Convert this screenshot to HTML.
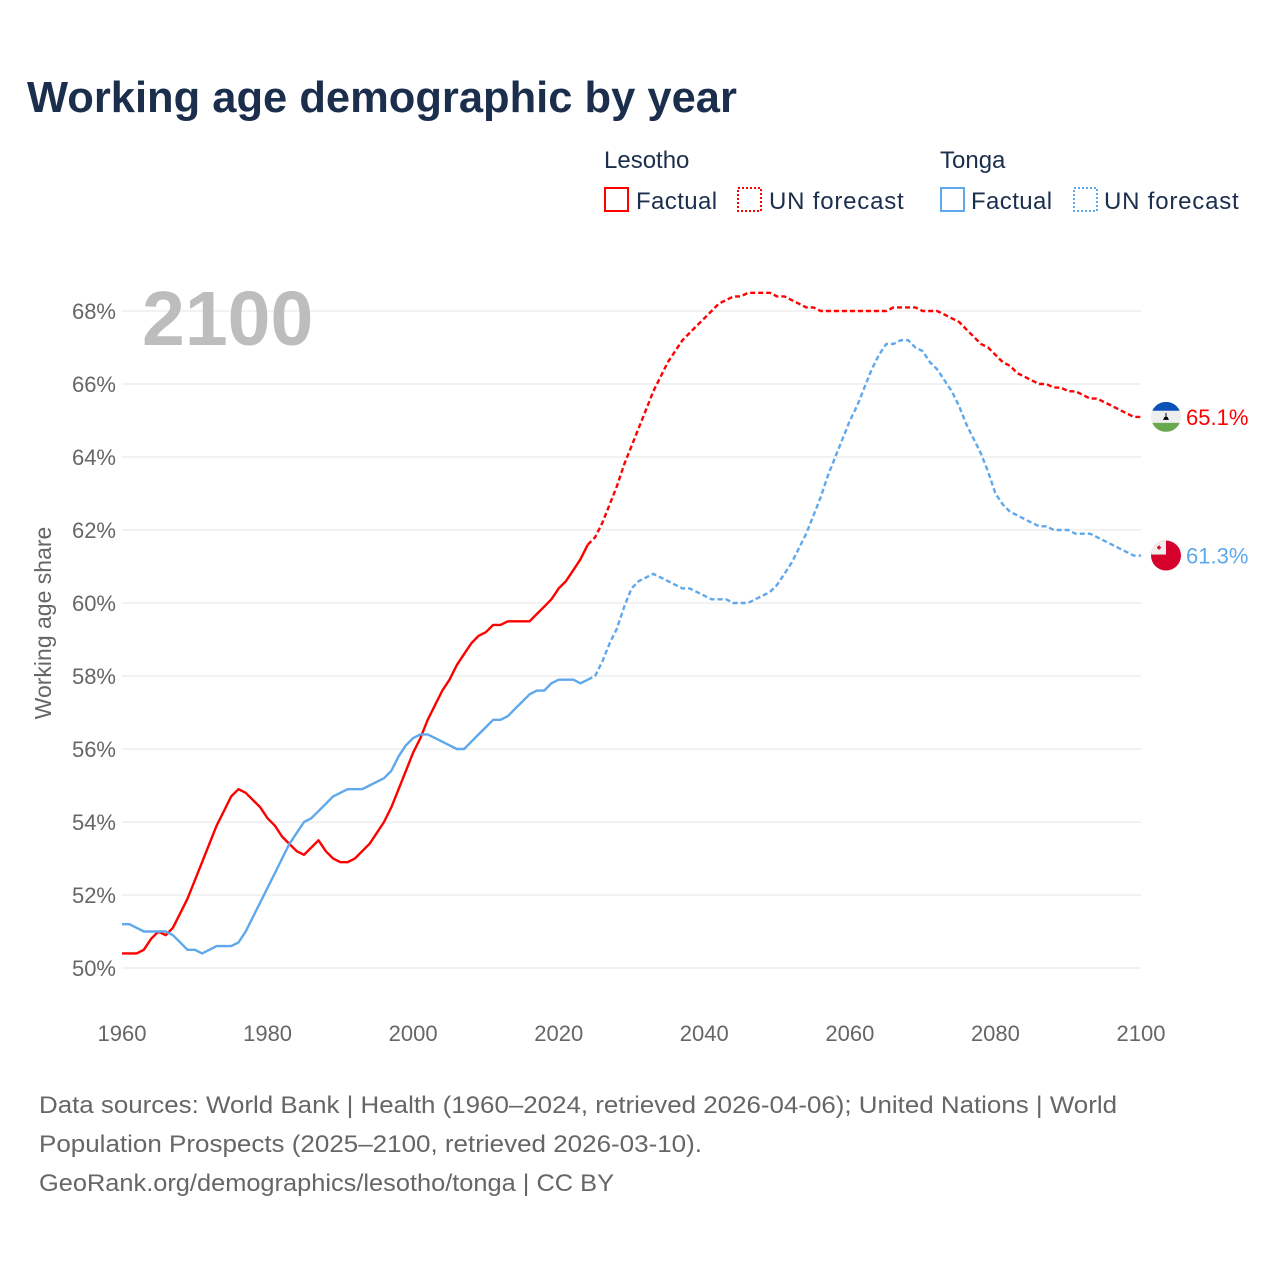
<!DOCTYPE html>
<html><head><meta charset="utf-8"><style>
body{margin:0;background:#fff;font-family:"Liberation Sans",sans-serif;}
svg{display:block}
</style></head><body>
<svg id="chart" width="1280" height="1280" xmlns="http://www.w3.org/2000/svg">
<text x="27" y="112" font-size="43.5" font-weight="bold" fill="#1b2f4d">Working age demographic by year</text>
<g font-size="24" fill="#1b2f4d">
<text x="604" y="168">Lesotho</text>
<rect x="605" y="188" width="23" height="23" fill="none" stroke="#f00" stroke-width="2"/>
<text x="636" y="209" letter-spacing="0.4">Factual</text>
<rect x="738" y="188" width="23" height="23" fill="none" stroke="#f00" stroke-width="2" stroke-dasharray="2,2"/>
<text x="769" y="209" letter-spacing="0.8">UN forecast</text>
<text x="940" y="168">Tonga</text>
<rect x="941" y="188" width="23" height="23" fill="none" stroke="#5fa8ec" stroke-width="2"/>
<text x="971" y="209" letter-spacing="0.4">Factual</text>
<rect x="1074" y="188" width="23" height="23" fill="none" stroke="#5fa8ec" stroke-width="2" stroke-dasharray="2,2"/>
<text x="1104" y="209" letter-spacing="0.8">UN forecast</text>
</g>
<g id="grid"></g>
<text x="142" y="345" font-size="77" font-weight="bold" fill="#bdbdbd">2100</text>
<text transform="translate(51,623) rotate(-90)" text-anchor="middle" font-size="23" fill="#666">Working age share</text>
<g id="series"></g>
<g font-size="24" fill="#666">
<text x="39" y="1113" textLength="1078" lengthAdjust="spacingAndGlyphs">Data sources: World Bank | Health (1960–2024, retrieved 2026-04-06); United Nations | World</text>
<text x="39" y="1152" textLength="663" lengthAdjust="spacingAndGlyphs">Population Prospects (2025–2100, retrieved 2026-03-10).</text>
<text x="39" y="1191" textLength="575" lengthAdjust="spacingAndGlyphs">GeoRank.org/demographics/lesotho/tonga | CC BY</text>
</g>
</svg>
<script>
const yTicks=[50,52,54,56,58,60,62,64,66,68];
const xTicks=[1960,1980,2000,2020,2040,2060,2080,2100];
const lesFactual=[50.4,50.4,50.4,50.5,50.8,51.0,50.9,51.1,51.5,51.9,52.4,52.9,53.4,53.9,54.3,54.7,54.9,54.8,54.6,54.4,54.1,53.9,53.6,53.4,53.2,53.1,53.3,53.5,53.2,53.0,52.9,52.9,53.0,53.2,53.4,53.7,54.0,54.4,54.9,55.4,55.9,56.3,56.8,57.2,57.6,57.9,58.3,58.6,58.9,59.1,59.2,59.4,59.4,59.5,59.5,59.5,59.5,59.7,59.9,60.1,60.4,60.6,60.9,61.2,61.6];
const lesForecast=[61.6,61.8,62.2,62.7,63.2,63.8,64.3,64.8,65.3,65.8,66.2,66.6,66.9,67.2,67.4,67.6,67.8,68.0,68.2,68.3,68.4,68.4,68.5,68.5,68.5,68.5,68.4,68.4,68.3,68.2,68.1,68.1,68.0,68.0,68.0,68.0,68.0,68.0,68.0,68.0,68.0,68.0,68.1,68.1,68.1,68.1,68.0,68.0,68.0,67.9,67.8,67.7,67.5,67.3,67.1,67.0,66.8,66.6,66.5,66.3,66.2,66.1,66.0,66.0,65.9,65.9,65.8,65.8,65.7,65.6,65.6,65.5,65.4,65.3,65.2,65.1,65.1];
const tonFactual=[51.2,51.2,51.1,51.0,51.0,51.0,51.0,50.9,50.7,50.5,50.5,50.4,50.5,50.6,50.6,50.6,50.7,51.0,51.4,51.8,52.2,52.6,53.0,53.4,53.7,54.0,54.1,54.3,54.5,54.7,54.8,54.9,54.9,54.9,55.0,55.1,55.2,55.4,55.8,56.1,56.3,56.4,56.4,56.3,56.2,56.1,56.0,56.0,56.2,56.4,56.6,56.8,56.8,56.9,57.1,57.3,57.5,57.6,57.6,57.8,57.9,57.9,57.9,57.8,57.9];
const tonForecast=[57.9,58.0,58.4,58.9,59.3,59.9,60.4,60.6,60.7,60.8,60.7,60.6,60.5,60.4,60.4,60.3,60.2,60.1,60.1,60.1,60.0,60.0,60.0,60.1,60.2,60.3,60.5,60.8,61.1,61.5,61.9,62.4,62.9,63.5,64.0,64.5,65.0,65.4,65.9,66.4,66.8,67.1,67.1,67.2,67.2,67.0,66.9,66.6,66.4,66.1,65.8,65.4,64.9,64.5,64.1,63.6,63.0,62.7,62.5,62.4,62.3,62.2,62.1,62.1,62.0,62.0,62.0,61.9,61.9,61.9,61.8,61.7,61.6,61.5,61.4,61.3,61.3];
const NS='http://www.w3.org/2000/svg';
const X=y=>122+(y-1960)*(1019/140);
const Y=v=>968-(v-50)*36.5;
const grid=document.getElementById('grid'),ser=document.getElementById('series');
function mk(tag,attrs,parent){const e=document.createElementNS(NS,tag);for(const k in attrs)e.setAttribute(k,attrs[k]);parent.appendChild(e);return e;}
yTicks.forEach(t=>{
 const l=mk('line',{x1:122,x2:1141,y1:Y(t),y2:Y(t),stroke:'#e4e4e4','stroke-width':1},grid);
 
 
 const tx=mk('text',{x:116,y:Y(t)+8,'text-anchor':'end','font-size':22,fill:'#666'},grid);
 tx.textContent=t+'%';
 
 
});
xTicks.forEach(t=>{
 const tx=mk('text',{x:X(t),y:1041,'text-anchor':'middle','font-size':22,fill:'#666'},grid);
 tx.textContent=t;
 
 
});
function line(vals,start,color,dash,name){
 const d=vals.map((v,i)=>(i?'L':'M')+X(start+i).toFixed(1)+','+Y(v).toFixed(1)).join('');
 const p=mk('path',{d:d,fill:'none',stroke:color,'stroke-width':2.4,'stroke-linejoin':'round'},ser);
 if(dash)p.setAttribute('stroke-dasharray','5,3');
 
 
}
line(lesFactual,1960,'#f00',false,'lesotho-factual-line');
line(lesForecast,2024,'#f00',true,'lesotho-forecast-line');
line(tonFactual,1960,'#5fa8ec',false,'tonga-factual-line');
line(tonForecast,2024,'#5fa8ec',true,'tonga-forecast-line');
function endLabel(val,color,name,flag){
 const cx=1166,cy=Y(val);
 const g=mk('g',{},ser);
 
 
 const cp=mk('clipPath',{id:'c'+name},g);mk('circle',{cx:cx,cy:cy,r:15},cp);
 const inner=mk('g',{'clip-path':'url(#c'+name+')'},g);
 if(flag==='ls'){
  mk('rect',{x:cx-15,y:cy-15,width:30,height:9,fill:'#0a52b8'},inner);
  mk('rect',{x:cx-15,y:cy-6,width:30,height:12,fill:'#eee'},inner);
  mk('rect',{x:cx-15,y:cy+6,width:30,height:9,fill:'#6aa84f'},inner);
  mk('path',{d:`M${cx-3},${cy+3}h6l-1.5,-3h-1v-4h-1v4h-1z`,fill:'#000'},inner);
 }else{
  mk('rect',{x:cx-15,y:cy-15,width:30,height:30,fill:'#d5002b'},inner);
  mk('rect',{x:cx-15,y:cy-15,width:15,height:14,fill:'#eee'},inner);
  mk('path',{d:`M${cx-9},${cy-8}h4M${cx-7},${cy-10}v4`,stroke:'#d5002b','stroke-width':1.6},inner);
 }
 const t=mk('text',{x:1186,y:cy+8,'font-size':22,fill:color},ser);
 t.textContent=val.toFixed(1)+'%';
 
 
}
endLabel(lesForecast[lesForecast.length-1],'#f00','lesotho','ls');
endLabel(tonForecast[tonForecast.length-1],'#5fa8ec','tonga','to');
</script>
</body></html>
